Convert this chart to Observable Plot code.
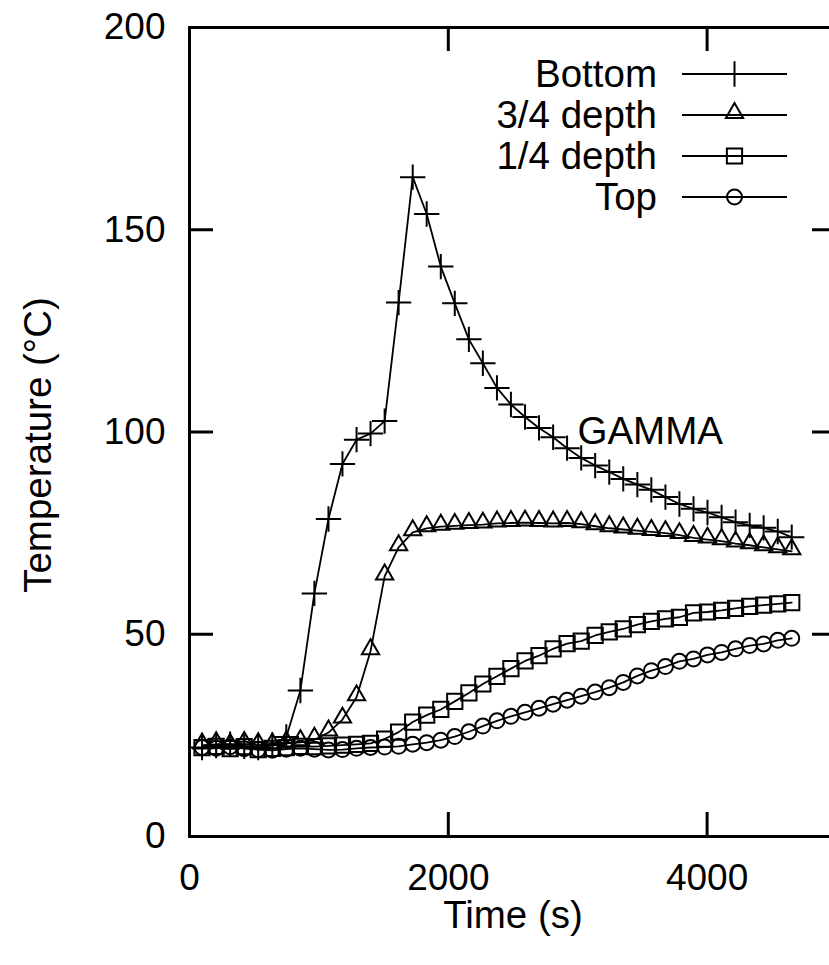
<!DOCTYPE html>
<html>
<head>
<meta charset="utf-8">
<script src="https://cdn.jsdelivr.net/npm/d3@7"></script>
<script src="https://cdn.jsdelivr.net/npm/@observablehq/plot@0.6"></script>
<style>
  html, body { margin: 0; padding: 0; background: white; overflow: hidden; }
  #chart { position: relative; width: 829px; height: 965px; overflow: hidden; }
  #chart svg { max-width: none !important; }
</style>
</head>
<body>
<div id="chart"></div>
<script>
// ---- data ----
const times = [97, 206, 314, 423, 531, 640, 748, 857, 965, 1074, 1182, 1291, 1399, 1508, 1616,
  1725, 1833, 1942, 2050, 2159, 2267, 2376, 2484, 2593, 2701, 2810, 2918, 3027, 3135, 3244,
  3352, 3461, 3569, 3678, 3786, 3895, 4003, 4112, 4220, 4329, 4437, 4546, 4654];

const bottomTemps = [22.0, 22.5, 22.8, 22.3, 22.0, 22.6, 24.6, 36.1, 60.1, 78.5, 92.1, 98.1, 99.6, 102.7, 132.0,
  163.0, 153.9, 140.9, 131.8, 122.9, 117.0, 110.9, 106.8, 103.7, 101.0, 98.7, 96.0, 93.6, 91.7, 90.1,
  88.4, 87.0, 85.7, 83.9, 82.2, 81.0, 80.1, 78.9, 77.7, 76.9, 76.3, 75.4, 74.0];

const depth34Temps = [22.5, 22.8, 22.4, 22.9, 22.6, 22.5, 23.0, 23.3, 23.9, 25.7, 28.9, 34.4, 45.8, 64.3, 71.5,
  75.2, 76.2, 76.6, 76.8, 77.0, 77.1, 77.4, 77.5, 77.6, 77.5, 77.4, 77.5, 77.2, 76.7, 76.2,
  75.9, 75.6, 75.3, 75.0, 74.5, 73.8, 73.4, 73.0, 72.4, 72.0, 71.5, 71.0, 70.5];

const depth14Temps = [22.0, 22.3, 21.7, 22.2, 21.5, 21.8, 22.0, 22.3, 22.2, 22.4, 22.6, 22.8, 23.0, 24.1, 25.8,
  28.3, 30.0, 31.4, 33.4, 35.5, 37.7, 39.6, 41.5, 43.4, 44.7, 46.4, 47.7, 48.3, 49.7, 50.6,
  51.3, 52.4, 53.2, 53.8, 54.2, 55.3, 55.5, 55.9, 56.4, 56.9, 57.2, 57.5, 57.8];

const topTemps = [22.0, 21.8, 22.2, 21.7, 21.5, 21.3, 21.6, 21.8, 21.6, 21.4, 21.5, 21.8, 22.0, 22.1, 22.3,
  22.8, 23.2, 23.8, 24.7, 25.9, 27.3, 28.6, 29.7, 30.7, 31.7, 32.7, 33.7, 34.7, 35.7, 36.8,
  38.1, 39.7, 41.0, 42.0, 43.3, 43.9, 44.9, 45.5, 46.4, 47.2, 47.6, 48.5, 49.0];

const seriesNames = ["Bottom", "3/4 depth", "1/4 depth", "Top"];
const seriesValues = [bottomTemps, depth34Temps, depth14Temps, topTemps];
const seriesSymbols = ["plus", "triangle", "square", "circle"];

const xTicks = [0, 2000, 4000];
const yTicks = [0, 50, 100, 150, 200];
const xDomain = [0, 5000];
const yDomain = [0, 200];
const xLabel = "Time (s)";
const yLabel = "Temperature (°C)";
const annotation = {text: "GAMMA", t: 3560, temp: 100};

// ---- layout / style ----
const W = 845, H = 965;
const mL = 189, mR = 9, mT = 27, mB = 129;
const frameH = H - mT - mB;
const frameW = W - mL - mR;
const tickLen = 24;
const font = "'Liberation Sans', Arial, Helvetica, sans-serif";
const fontSize = 37;
const textSize = 38.5;
const symbolR = {plus: 8.2, triangle: 6.4, square: 8.6, circle: 7.5};
const symbolDy = {plus: 0, triangle: -2, square: 0, circle: 0};
const markerStroke = 2;
const lineStroke = 1.8;

const rows = seriesNames.flatMap((name, k) =>
  times.map((t, i) => ({t, v: seriesValues[k][i], s: name, sym: seriesSymbols[k]})));

const marks = [
  Plot.frame({stroke: "black", strokeWidth: 3}),
  // inward ticks on all four sides
  Plot.tickX(xTicks, {x: d => d, insetTop: frameH - tickLen, stroke: "black", strokeWidth: 3}),
  Plot.tickX(xTicks, {x: d => d, insetBottom: frameH - tickLen, stroke: "black", strokeWidth: 3}),
  Plot.tickY(yTicks, {y: d => d, insetRight: frameW - tickLen, stroke: "black", strokeWidth: 3}),
  Plot.tickY(yTicks, {y: d => d, insetLeft: frameW - tickLen, stroke: "black", strokeWidth: 3}),
  Plot.line(rows, {x: "t", y: "v", z: "s", stroke: "black", strokeWidth: lineStroke})
];
seriesNames.forEach((name, k) => {
  const sym = seriesSymbols[k];
  marks.push(Plot.dot(rows.filter(d => d.s === name), {
    x: "t", y: "v", symbol: sym, r: symbolR[sym], dy: symbolDy[sym],
    stroke: "black", strokeWidth: markerStroke, fill: "none"
  }));
});
marks.push(Plot.text([annotation], {x: "t", y: "temp", text: "text", fill: "black", fontSize: textSize}));
marks.push(Plot.text([xLabel], {frameAnchor: "bottom", dy: 91, textAnchor: "middle", text: d => d, fill: "black", fontSize: textSize}));
marks.push(Plot.text([yLabel], {frameAnchor: "left", rotate: -90, textAnchor: "middle", dx: -151, dy: 13, text: d => d, fill: "black", fontSize: textSize}));

const svg = Plot.plot({
  width: W, height: H,
  marginLeft: mL, marginRight: mR, marginTop: mT, marginBottom: mB,
  style: {fontFamily: font, fontSize: fontSize + "px", color: "black", background: "white", overflow: "visible", maxWidth: "none"},
  x: {domain: xDomain, ticks: xTicks, tickSize: 0, tickPadding: 27, tickFormat: "d", label: null},
  y: {domain: yDomain, ticks: yTicks, tickSize: 0, tickPadding: 24, tickFormat: "d", label: null},
  marks
});
svg.style.maxWidth = "none";
document.getElementById("chart").appendChild(svg);

// ---- legend (top right, inside the frame) ----
const legRight = 657, legTop = 74, legGap = 41, lineX1 = 682, lineX2 = 787;
const d3Sym = {plus: d3.symbolPlus, triangle: d3.symbolTriangle, square: d3.symbolSquare, circle: d3.symbolCircle};
const leg = d3.select(svg).append("g").attr("font-family", font).attr("font-size", textSize);
seriesNames.forEach((name, k) => {
  const sym = seriesSymbols[k];
  const y = legTop + k * legGap;
  const g = leg.append("g");
  g.append("text").attr("x", legRight).attr("y", y).attr("dy", "0.35em")
    .attr("text-anchor", "end").attr("fill", "black").text(name);
  g.append("line").attr("x1", lineX1).attr("x2", lineX2).attr("y1", y).attr("y2", y)
    .attr("stroke", "black").attr("stroke-width", lineStroke);
  const r = symbolR[sym];
  g.append("path")
    .attr("transform", `translate(${(lineX1 + lineX2) / 2},${y + symbolDy[sym]})`)
    .attr("d", d3.symbol(d3Sym[sym], Math.PI * r * r)())
    .attr("fill", "none").attr("stroke", "black").attr("stroke-width", markerStroke);
});
</script>
</body>
</html>
